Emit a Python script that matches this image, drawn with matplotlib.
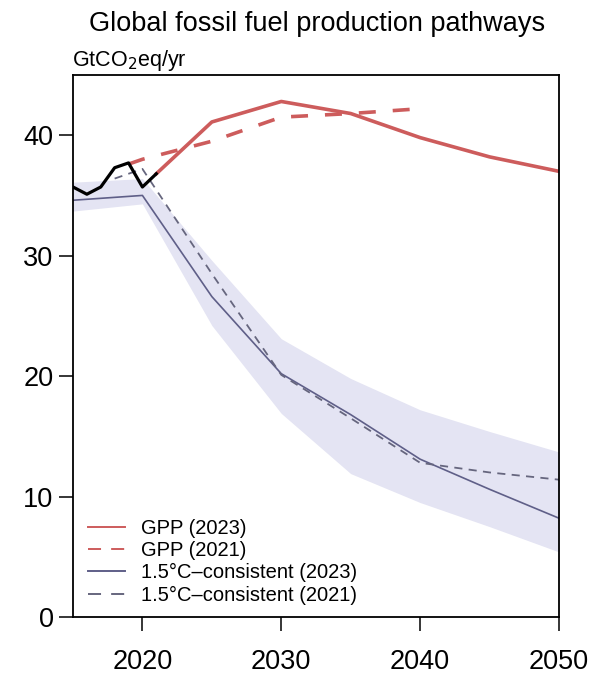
import matplotlib
matplotlib.use("Agg")
import matplotlib.pyplot as plt
from matplotlib.lines import Line2D

plt.rcParams["font.family"] = ["Liberation Sans", "DejaVu Sans"]

# Historical production
hist_years = [2015, 2016, 2017, 2018, 2019, 2020, 2021]
hist_vals = [35.7, 35.1, 35.7, 37.3, 37.7, 35.7, 36.8]

# Governments' production plans (GPP)
gpp23_years = [2021, 2025, 2030, 2035, 2040, 2045, 2050]
gpp23_vals = [36.8, 41.1, 42.8, 41.8, 39.8, 38.2, 37.0]
gpp21_years = [2019, 2020, 2025, 2030, 2035, 2040]
gpp21_vals = [37.6, 38.0, 39.5, 41.5, 41.8, 42.2]

# 1.5C-consistent pathways
c15_23_years = [2015, 2020, 2025, 2030, 2035, 2040, 2045, 2050]
c15_23_vals = [34.6, 35.0, 26.6, 20.2, 16.8, 13.1, 10.6, 8.2]
c15_23_low = [33.7, 34.3, 24.2, 16.9, 11.9, 9.5, 7.5, 5.4]
c15_23_high = [36.1, 36.4, 29.6, 23.1, 19.8, 17.2, 15.4, 13.7]
c15_21_years = [2018, 2020, 2025, 2030, 2035, 2040, 2045, 2050]
c15_21_vals = [36.4, 37.2, 28.5, 20.1, 16.5, 12.8, 12.0, 11.4]

red = "#cd5c5c"
purple = "#5f5f88"
band = "#e4e4f3"
pdash = "#66667e"

fig = plt.figure(figsize=(5.91, 6.78), dpi=100)
ax = fig.add_axes([0.1235, 0.09, 0.8224, 0.7994])

ax.fill_between(c15_23_years, c15_23_low, c15_23_high, color=band, lw=0)
ax.plot(c15_23_years, c15_23_vals, color=purple, lw=1.2)
ax.plot(c15_21_years, c15_21_vals, color=pdash, lw=1.3, dashes=(4.5, 3.5))
ax.plot(gpp21_years, gpp21_vals, color=red, lw=2.6, dashes=(4.7, 4.7))
ax.plot(gpp23_years, gpp23_vals, color=red, lw=2.6)
ax.plot(hist_years, hist_vals, color="black", lw=2.3)

ax.set_xlim(2015, 2050)
ax.set_ylim(0, 45)
ax.set_xticks([2020, 2030, 2040, 2050])
ax.set_yticks([0, 10, 20, 30, 40])
ax.tick_params(axis="both", labelsize=19.5, length=10, width=1.1, direction="out")
ax.tick_params(axis="x", pad=13)
ax.tick_params(axis="y", pad=4)
for s in ax.spines.values():
    s.set_linewidth(1.3)

fig.text(0.536, 0.955, "Global fossil fuel production pathways", ha="center",
         va="baseline", fontsize=19.5)
fig.text(0.121, 0.903, "GtCO$_2$eq/yr", ha="left", va="baseline", fontsize=15.5)

handles = [
    Line2D([], [], color=red, lw=1.4),
    Line2D([], [], color=red, lw=1.4, dashes=(6.7, 5.2)),
    Line2D([], [], color=purple, lw=1.4),
    Line2D([], [], color=pdash, lw=1.4, dashes=(6.7, 5.2)),
]
labels = ["GPP (2023)", "GPP (2021)", "1.5°C–consistent (2023)", "1.5°C–consistent (2021)"]
ax.legend(handles, labels, loc="lower left", bbox_to_anchor=(0.0, -0.005), frameon=False,
          fontsize=14.5, handlelength=1.85, handletextpad=0.8, labelspacing=0.16,
          borderpad=0.5, borderaxespad=0.25)

fig.savefig("out.png", dpi=100)
